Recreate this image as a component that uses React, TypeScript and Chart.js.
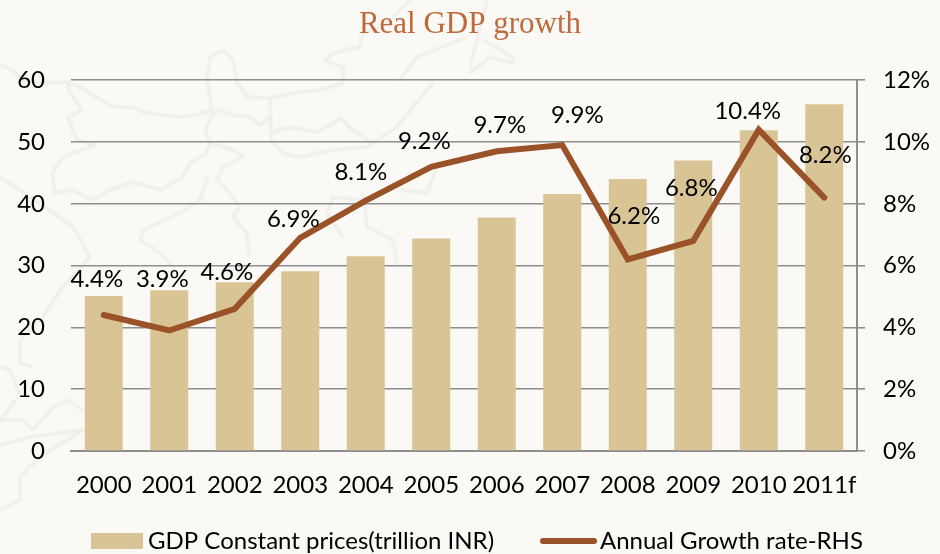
import React, { useEffect, useRef } from "react";
import { Chart, registerables } from "chart.js";

Chart.register(...registerables);

const categories = ["2000", "2001", "2002", "2003", "2004", "2005", "2006", "2007", "2008", "2009", "2010", "2011f"];
const gdpValues = [25.1, 26.0, 27.3, 29.1, 31.5, 34.4, 37.8, 41.6, 44.0, 47.0, 51.9, 56.1];
const growthValues = [4.4, 3.9, 4.6, 6.9, 8.1, 9.2, 9.7, 9.9, 6.2, 6.8, 10.4, 8.2];
const growthLabels = ["4.4%", "3.9%", "4.6%", "6.9%", "8.1%", "9.2%", "9.7%", "9.9%", "6.2%", "6.8%", "10.4%", "8.2%"];
const labelShiftX = [-7, -7, -8, -7, -5, -7, 3, 15, 6, -2, -11, 1];
const labelShiftY = [-36, -51, -37, -19, -28, -25, -26, -30, -43, -53, -18, -42];

const FONT = "Lato, 'Open Sans', sans-serif";
const GRID = "#8e8e8e";
const BAR = "#D9C496";
const LINE = "#9A5229";
const INK = "#000000";

const growthLabelPlugin = {
  id: "growthLabels",
  afterDatasetsDraw(chart: any) {
    const meta = chart.getDatasetMeta(1);
    const ctx = chart.ctx;
    ctx.save();
    ctx.font = `24px ${FONT}`;
    ctx.fillStyle = INK;
    ctx.textAlign = "center";
    ctx.textBaseline = "middle";
    meta.data.forEach((pt: any, i: number) => {
      ctx.fillText(growthLabels[i], pt.x + labelShiftX[i], pt.y + labelShiftY[i]);
    });
    ctx.restore();
  },
};

// Legend with the reference's tight swatch-to-text gap, read from the datasets.
const bottomLegendPlugin = {
  id: "bottomLegend",
  afterDraw(chart: any) {
    const ctx = chart.ctx;
    const y = 541;
    const [bars, line] = chart.data.datasets;
    ctx.save();
    ctx.font = `24px ${FONT}`;
    ctx.fillStyle = bars.backgroundColor;
    ctx.fillRect(91, y - 8, 52, 16);
    ctx.fillStyle = INK;
    ctx.textBaseline = "middle";
    ctx.textAlign = "left";
    ctx.fillText(bars.label, 148, y);
    ctx.strokeStyle = line.borderColor;
    ctx.lineWidth = 6;
    ctx.lineCap = "round";
    ctx.beginPath();
    ctx.moveTo(543, y);
    ctx.lineTo(594, y);
    ctx.stroke();
    ctx.fillText(line.label, 600, y);
    ctx.restore();
  },
};

const MAP_LINES = [
  "0,65 13,70 23,80 47,83 67,82 80,87 93,95 113,107 133,107 143,112 163,115 180,117 197,115 212,110 207,80 210,57 223,50 233,60 237,83 247,97 270,98 293,93 320,90 343,83 343,67 325,60 333,53 360,47 363,33 383,27 410,0",
  "270,98 271,140 283,153 300,157 333,150 367,147 373,143 353,130 340,118 330,125 317,132 290,127 273,132",
  "213,113 220,110 233,115 250,117 260,125 270,117",
  "213,113 205,130 210,143 207,153 190,163 183,177 160,190 133,182 110,190 93,200 73,190 55,193 52,173 63,157 95,145 77,140 68,118 82,110 70,93 67,82",
  "210,143 233,150 243,157 223,167 217,180 233,197 240,207 233,217 247,233 250,257",
  "207,177 200,200 180,213 143,230 140,240 160,253 173,267",
  "0,177 20,190 53,213 73,227 90,257 60,290 43,317 20,340 20,363 33,367",
  "0,367 10,370 20,395 0,420 23,420 33,430 53,407 67,400 83,410",
  "0,445 30,437 83,430 40,457 20,477 20,500 0,510",
  "360,200 333,197 327,213 343,237",
  "363,193 367,227 393,240 397,263",
  "400,190 427,193 437,167",
  "433,83 413,107 397,127 373,143",
  "467,37 417,57 400,80",
  "470,67 487,0",
  "483,40 513,57 513,63 490,57 470,73",
];

export default function App() {
  const ref = useRef<HTMLCanvasElement | null>(null);

  useEffect(() => {
    document.body.style.margin = "0";
    const chart = new Chart(ref.current!, {
      data: {
        labels: categories,
        datasets: [
          {
            type: "bar",
            label: "GDP Constant prices(trillion INR)",
            data: gdpValues,
            backgroundColor: BAR,
            barPercentage: 0.58,
            categoryPercentage: 1,
            yAxisID: "y",
            order: 2,
          },
          {
            type: "line",
            label: "Annual Growth rate-RHS",
            data: growthValues,
            borderColor: LINE,
            backgroundColor: LINE,
            borderWidth: 6,
            pointRadius: 0,
            tension: 0,
            borderCapStyle: "round",
            yAxisID: "y1",
            order: 1,
          },
        ],
      } as any,
      options: {
        responsive: false,
        animation: false,
        layout: { padding: 0 },
        plugins: {
          title: {
            display: true,
            text: "Real GDP growth",
            color: "#BF6A3A",
            font: { family: "'Liberation Serif', serif", size: 31, weight: "normal" },
            padding: { top: 6, bottom: 37 },
          },
          legend: { display: false },
          tooltip: { enabled: false },
        },
        scales: {
          x: {
            afterFit: (s: any) => { s.height = 103; },
            grid: { display: false, drawTicks: false },
            border: { display: true, color: GRID, width: 2 },
            ticks: { color: INK, font: { family: FONT, size: 24 }, padding: 20, maxRotation: 0, autoSkip: false },
          },
          y: {
            position: "left",
            min: 0,
            max: 60,
            afterFit: (s: any) => { s.width = 71; },
            ticks: { stepSize: 10, color: INK, font: { family: FONT, size: 24 }, padding: 26 },
            grid: { color: GRID, lineWidth: 1.6, drawTicks: false },
            border: { display: false },
          },
          y1: {
            position: "right",
            min: 0,
            max: 12,
            afterFit: (s: any) => { s.width = 83; },
            ticks: { stepSize: 2, color: INK, font: { family: FONT, size: 24 }, padding: 18, callback: (v: any) => `${v}%` },
            grid: { drawOnChartArea: false, color: GRID, lineWidth: 1.6, tickLength: 8 },
            border: { display: true, color: GRID, width: 2 },
          },
        },
      } as any,
      plugins: [growthLabelPlugin, bottomLegendPlugin],
    });
    return () => chart.destroy();
  }, []);

  return (
    <div style={{ position: "relative", width: 940, height: 554, background: "#FBF9F5", overflow: "hidden" }}>
      <svg width={940} height={554} style={{ position: "absolute", left: 0, top: 0, filter: "blur(0.8px)" }}>
        {MAP_LINES.map((points, i) => (
          <polyline key={i} points={points} fill="none" stroke="#ECEAE5" strokeWidth={2.4} strokeLinejoin="round" />
        ))}
      </svg>
      <canvas ref={ref} width={940} height={554} style={{ position: "absolute", left: 0, top: 0 }} />
    </div>
  );
}
